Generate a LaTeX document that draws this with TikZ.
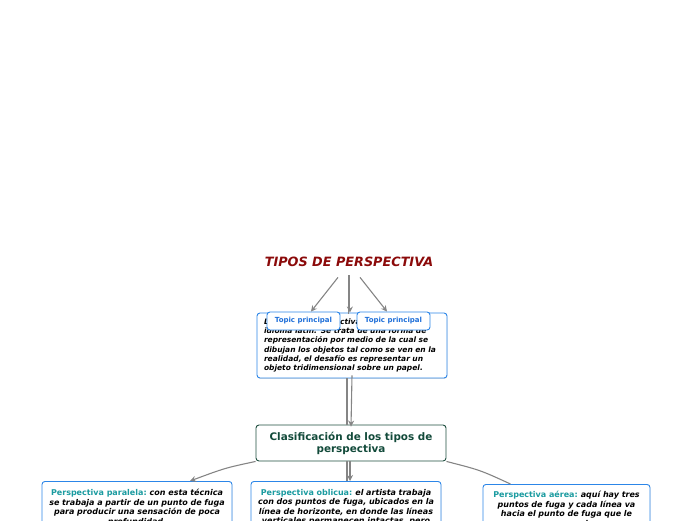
\documentclass[tikz,border=0pt]{standalone}
\usepackage{fontspec}
\setmainfont{DejaVu Sans}
\usetikzlibrary{calc,arrows.meta,shadows}
\definecolor{bluebd}{HTML}{2C86E8}
\definecolor{bluetx}{HTML}{1E6FD9}
\definecolor{greenbd}{HTML}{1F4F3F}
\definecolor{greentx}{HTML}{124A3A}
\definecolor{tealtx}{HTML}{1A9BA0}
\definecolor{redtx}{HTML}{8B0A0A}
\definecolor{linegr}{HTML}{858585}
\newcommand{\lblsep}{\hspace{3pt}}
\tikzset{
  every node/.style={font=\fontsize{7}{9.3}\selectfont},
  bluebox/.style={draw=bluebd, fill=white, rounded corners=3pt, line width=0.9pt,
    drop shadow={shadow xshift=0.4pt, shadow yshift=-0.9pt, opacity=0.25}},
  topicbox/.style={draw=bluebd, fill=white, rounded corners=3pt, line width=0.9pt,
    text=bluetx, font=\fontsize{7}{8}\selectfont\bfseries, minimum width=73pt, minimum height=18pt, inner sep=0pt},
  greenbox/.style={draw=greenbd, fill=white, rounded corners=3pt, line width=0.9pt,
    text=greentx, font=\fontsize{10.4}{12}\selectfont\bfseries, align=center},
  desctxt/.style={font=\fontsize{7.5}{9.3}\selectfont\bfseries\itshape},
  bodytxt/.style={font=\fontsize{8}{9.4}\selectfont\bfseries\itshape},
  conn/.style={draw=linegr, line width=1.1pt},
  arr/.style={conn, -{Stealth[length=6pt,width=6pt]}},
}
\begin{document}
\begin{tikzpicture}[x=1pt,y=-1pt]
\useasboundingbox (0,0) rectangle (696,520);
% title
\node[text=redtx, font=\fontsize{12.8}{14}\selectfont\bfseries\itshape] (title) at (349,262) {TIPOS DE PERSPECTIVA};
% description
\node[bluebox, desctxt, minimum width=190pt, minimum height=65pt, text width=176pt, align=left, inner sep=0pt]
  (desc) at (352,345.5) {La palabra perspectiva proviene del\\idioma latín. Se trata de una forma de\\representación por medio de la cual se\\dibujan los objetos tal como se ven en la\\realidad, el desafío es representar un\\objeto tridimensional sobre un papel.};
% topic boxes
\node[topicbox] (tpl) at (303.5,321) {Topic principal};
\node[topicbox] (tpr) at (393.5,321) {Topic principal};
% classification
\node[greenbox, minimum width=190pt, minimum height=36pt, inner sep=0pt] (clas) at (351,443) {Clasificación de los tipos de\\perspectiva};
% bottom boxes
\node[bluebox, bodytxt, anchor=north, minimum width=190pt, text width=186pt, align=center, inner xsep=2pt, inner ysep=8pt]
  (pl) at (137,481) {{\upshape\color{tealtx}Perspectiva paralela:}\lblsep con esta técnica\\se trabaja a partir de un punto de fuga\\para producir una sensación de poca\\profundidad.};
\node[bluebox, bodytxt, anchor=north, minimum width=190pt, text width=186pt, align=center, inner xsep=2pt, inner ysep=8pt]
  (po) at (346,481) {{\upshape\color{tealtx}Perspectiva oblicua:}\lblsep el artista trabaja\\con dos puntos de fuga, ubicados en la\\línea de horizonte, en donde las líneas\\verticales permanecen intactas, pero\\las horizontales se dirigen a la fuga.};
\node[bluebox, bodytxt, anchor=north, minimum width=167pt, text width=163pt, align=center, inner xsep=2pt, inner ysep=7pt]
  (pa) at (566.5,484) {{\upshape\color{tealtx}Perspectiva aérea:}\lblsep aquí hay tres\\puntos de fuga y cada línea va\\hacia el punto de fuga que le\\corresponde.};
% connectors title -> topics
\draw[arr] ([xshift=-11pt,yshift=-7pt]title.south) -- ([xshift=7.5pt]tpl.north);
\draw[conn] ([xshift=-0.9pt,yshift=-5pt]title.south) -- ([xshift=-0.9pt,yshift=-1pt]desc.north -| title.south);
\draw[arr] ([xshift=0.9pt,yshift=-5pt]title.south) -- ([xshift=0.9pt]desc.north -| title.south);
\draw[arr] ([xshift=11pt,yshift=-7pt]title.south) -- ([xshift=-6.5pt]tpr.north);
% desc -> clas
\draw[conn] ([xshift=-5pt]desc.south) -- ([xshift=-5pt]desc.south |- clas.north);
\draw[arr] ([xshift=0pt,yshift=3pt]desc.south) -- ([xshift=-1pt,yshift=-2pt]desc.south |- clas.north);
% clas -> bottom
\draw[arr] (clas.south west) .. controls (225,468) .. ([xshift=53pt]pl.north);
\draw[conn] ([xshift=-4pt]clas.south) -- ([xshift=-4pt]clas.south |- po.north);
\draw[arr] ([xshift=-1pt]clas.south) -- ([xshift=-1pt]clas.south |- po.north);
\draw[conn] (clas.south east) .. controls (480,470) .. ([xshift=-56pt]pa.north);
\end{tikzpicture}
\end{document}
